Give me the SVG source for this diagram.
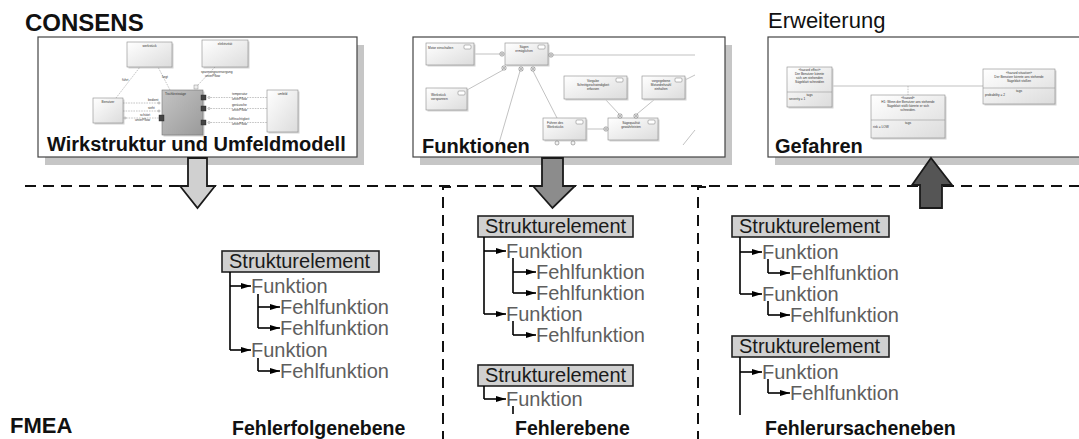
<svg xmlns="http://www.w3.org/2000/svg" width="1079" height="439" viewBox="0 0 1079 439">
  <defs>
    <style>
      .title{font-family:"Liberation Sans",Arial,sans-serif;font-weight:bold;font-size:24px;fill:#111}
      .sub{font-family:"Liberation Sans",Arial,sans-serif;font-size:22px;fill:#111}
      .lbl{font-family:"Liberation Sans",Arial,sans-serif;font-weight:bold;font-size:20px;fill:#111}
      .lvl{font-family:"Liberation Sans",Arial,sans-serif;font-weight:bold;font-size:19.5px;fill:#111}
      .se{font-family:"Liberation Sans",Arial,sans-serif;font-size:20px;fill:#1a1a1a}
      .fn{font-family:"Liberation Sans",Arial,sans-serif;font-size:20px;fill:#5e5e5e}
      .tiny{font-family:"Liberation Sans",Arial,sans-serif;font-size:3.2px;fill:#333}
      .tinyc{font-family:"Liberation Sans",Arial,sans-serif;font-size:3.2px;fill:#333;text-anchor:middle}
      .frame{fill:#fff;stroke:#444;stroke-width:1.2}
      .shadow{fill:#c6c6c6}
      .sb{fill:url(#boxg);stroke:#8a8a8a;stroke-width:0.6}
      .sbs{fill:#d4d4d4}
      .dk{fill:#444;stroke:#222;stroke-width:0.4}
      .lp{fill:#eee;stroke:#777;stroke-width:0.4}
      .dl{fill:none;stroke:#888;stroke-width:0.5;stroke-dasharray:1.6 1}
      .sl{fill:none;stroke:#999;stroke-width:0.6}
      .ic{fill:#fff;stroke:#777;stroke-width:0.5}
      .sebox{fill:#d0d0d0;stroke:#222;stroke-width:1.6}
      .tree{fill:none;stroke:#000;stroke-width:1.6}
      .tarr{fill:none;stroke:#000;stroke-width:1.6;marker-end:url(#tip)}
      .dash{fill:none;stroke:#111;stroke-width:2;stroke-dasharray:11 7}
      .blk{stroke:#1a1a1a;stroke-width:1.8;stroke-linejoin:miter}
    </style>
    <linearGradient id="boxg" x1="0" y1="0" x2="1" y2="1">
      <stop offset="0" stop-color="#ffffff"/>
      <stop offset="1" stop-color="#dcdcdc"/>
    </linearGradient>
    <linearGradient id="grayg" x1="0" y1="0" x2="1" y2="1">
      <stop offset="0" stop-color="#c4c4c4"/>
      <stop offset="1" stop-color="#9a9a9a"/>
    </linearGradient>
    <marker id="tip" viewBox="0 0 10 6" refX="10" refY="3" markerWidth="10" markerHeight="6" markerUnits="userSpaceOnUse" orient="auto">
      <path d="M0,0 L10,3 L0,6 Z" fill="#000"/>
    </marker>
  </defs>

  <!-- section headings -->
  <text class="title" x="25" y="31">CONSENS</text>
  <text class="sub" x="768" y="28">Erweiterung</text>
  <text class="title" x="10" y="433" style="font-size:22px">FMEA</text>

  <!-- panel: structure and environment model -->
  <g id="panel-wirkstruktur">
    <rect class="shadow" x="45" y="45" width="319" height="120"/>
    <rect class="frame" x="38" y="37" width="319" height="120"/>
    <g>
      <rect class="sbs" x="128.5" y="43.5" width="45" height="25"/>
      <rect class="sb" x="127" y="42" width="45" height="25"/>
      <text class="tinyc" x="149.5" y="47">werkstück</text>
      <rect class="sbs" x="203.5" y="41.5" width="46" height="27"/>
      <rect class="sb" x="202" y="40" width="46" height="27"/>
      <text class="tinyc" x="225" y="45">elektrizität</text>
      <rect class="sbs" x="94.5" y="99.5" width="30" height="25"/>
      <rect class="sb" x="93" y="98" width="30" height="25"/>
      <text class="tinyc" x="108" y="103">Benutzer</text>
      <rect class="sbs" x="163.5" y="91.5" width="41" height="45"/>
      <rect x="162" y="90" width="41" height="45" fill="url(#grayg)" stroke="#777" stroke-width="0.6"/>
      <text class="tiny" x="165" y="95">Tischkreissäge</text>
      <rect class="sbs" x="268.5" y="91.5" width="31" height="42"/>
      <rect class="sb" x="267" y="90" width="31" height="42"/>
      <text class="tinyc" x="282.5" y="95">umfeld</text>
      <!-- dashed relations -->
      <path class="dl" d="M116,98 L140,67 M170,90 L158,67 M215,67 L197,86"/>
      <path class="dl" d="M123,103 H159 M123,111 H159 M126,118 H160"/>
      <path class="dl" d="M208,97.5 H267 M208,108.5 H267 M208,122.5 H267"/>
      <circle class="ic" cx="159" cy="103" r="1"/>
      <circle class="ic" cx="159" cy="111" r="1"/>
      <circle class="ic" cx="125" cy="118" r="1"/>
      <circle class="ic" cx="209" cy="97.5" r="1"/>
      <circle class="ic" cx="209" cy="108.5" r="1"/>
      <circle class="ic" cx="209" cy="122.5" r="1"/>
      <rect class="lp" x="194" y="85" width="4" height="4"/>
      <rect class="dk" x="159" y="115" width="5" height="6"/>
      <rect class="dk" x="201" y="95" width="5" height="5"/>
      <rect class="dk" x="201" y="106" width="5" height="5"/>
      <rect class="dk" x="201" y="120" width="5" height="5"/>
      <text class="tiny" x="122" y="81">führt</text>
      <text class="tiny" x="162" y="78">liegt</text>
      <text class="tiny" x="201" y="73">spannungsversorgung</text>
      <text class="tiny" x="205" y="77">unterPflow</text>
      <text class="tiny" x="148" y="101">bedient</text>
      <text class="tiny" x="148" y="109">sieht</text>
      <text class="tiny" x="140" y="116">schützt</text>
      <text class="tiny" x="135" y="121">unterPflow</text>
      <text class="tiny" x="232" y="95">temperatur</text>
      <text class="tiny" x="232" y="99.5">unterPflow</text>
      <text class="tiny" x="232" y="106">geräusche</text>
      <text class="tiny" x="232" y="110.5">unterPflow</text>
      <text class="tiny" x="229" y="120">luftfeuchtigkeit</text>
      <text class="tiny" x="232" y="124.5">unterPflow</text>
    </g>
    <text class="lbl" x="47" y="151">Wirkstruktur und Umfeldmodell</text>
  </g>

  <!-- panel: functions -->
  <g id="panel-funktionen">
    <rect class="shadow" x="420" y="45" width="312" height="120"/>
    <rect class="frame" x="413" y="37" width="312" height="120"/>
    <g>
      <path class="sl" d="M474,54 H500 M553,55 H695 M503,70 L467,90 M520,71 L497,150 M533,71 L557,118 M586,129 H604 M605,99 L619,114 M655,99 L637,114 M685,80 L695,75 M683,145 L695,130"/>
      <rect class="sbs" x="427.5" y="44.5" width="48" height="22"/>
      <rect class="sb" x="426" y="43" width="48" height="22"/>
      <text class="tiny" x="428" y="49">Motor einschalten</text>
      <rect class="sbs" x="506.5" y="44.5" width="43" height="22"/>
      <rect class="sb" x="505" y="43" width="43" height="22"/>
      <text class="tinyc" x="524" y="48">Sägen</text>
      <text class="tinyc" x="524" y="52">ermöglichen</text>
      <rect class="sbs" x="427.5" y="89.5" width="41" height="22"/>
      <rect class="sb" x="426" y="88" width="41" height="22"/>
      <text class="tiny" x="431" y="96">Werkstück</text>
      <text class="tiny" x="431" y="100">vorspannen</text>
      <rect class="sbs" x="565.5" y="77.5" width="63" height="23"/>
      <rect class="sb" x="564" y="76" width="63" height="23"/>
      <text class="tinyc" x="593" y="82">Vorgabe</text>
      <text class="tinyc" x="593" y="86">Schnittgeschwindigkeit</text>
      <text class="tinyc" x="593" y="90">erfassen</text>
      <rect class="sbs" x="643.5" y="77.5" width="43" height="23"/>
      <rect class="sb" x="642" y="76" width="43" height="23"/>
      <text class="tinyc" x="661" y="82">vorgegebene</text>
      <text class="tinyc" x="661" y="86">Motordrehzahl</text>
      <text class="tinyc" x="661" y="90">einhalten</text>
      <rect class="sbs" x="544.5" y="119.5" width="43" height="22"/>
      <rect class="sb" x="543" y="118" width="43" height="22"/>
      <text class="tiny" x="547" y="124">Führen des</text>
      <text class="tiny" x="547" y="128">Werkstücks</text>
      <rect class="sbs" x="609.5" y="119.5" width="50" height="22"/>
      <rect class="sb" x="608" y="118" width="50" height="22"/>
      <text class="tinyc" x="631" y="124">Sägequalität</text>
      <text class="tinyc" x="631" y="128">gewährleisten</text>
      <!-- icons -->
      <rect class="ic" x="464" y="45" width="7" height="4" rx="1"/>
      <rect class="ic" x="538" y="45" width="7" height="4" rx="1"/>
      <rect class="ic" x="458" y="91" width="7" height="4" rx="1"/>
      <rect class="ic" x="616" y="78" width="7" height="4" rx="1"/>
      <rect class="ic" x="675" y="78" width="7" height="4" rx="1"/>
      <rect class="ic" x="576" y="120" width="7" height="4" rx="1"/>
      <rect class="ic" x="648" y="120" width="7" height="4" rx="1"/>
      <!-- ports -->
      <g fill="#f2f2f2" stroke="#666" stroke-width="0.5">
        <circle cx="502" cy="54" r="2.2"/>
        <circle cx="551" cy="55" r="2.2"/>
        <circle cx="504" cy="68" r="2.2"/>
        <circle cx="521" cy="69" r="2.2"/>
        <circle cx="533" cy="69" r="2.2"/>
        <circle cx="606" cy="129" r="2.2"/>
        <circle cx="620" cy="116" r="2.2"/>
        <circle cx="636" cy="116" r="2.2"/>
        <circle cx="557" cy="143" r="2"/>
        <circle cx="573" cy="143" r="2"/>
      </g>
      <path d="M500.5,54 H503.5 M502,52.5 V55.5 M549.5,55 H552.5 M551,53.5 V56.5 M502.5,66.5 L505.5,69.5 M505.5,66.5 L502.5,69.5 M519.5,67.5 L522.5,70.5 M522.5,67.5 L519.5,70.5 M531.5,67.5 L534.5,70.5 M534.5,67.5 L531.5,70.5 M604.5,129 H607.5 M606,127.5 V130.5 M618.5,114.5 L621.5,117.5 M621.5,114.5 L618.5,117.5 M634.5,114.5 L637.5,117.5 M637.5,114.5 L634.5,117.5" stroke="#666" stroke-width="0.4" fill="none"/>
    </g>
    <text class="lbl" x="422" y="153">Funktionen</text>
  </g>

  <!-- panel: hazards -->
  <g id="panel-gefahren">
    <rect class="shadow" x="775" y="45" width="320" height="120"/>
    <rect class="frame" x="768" y="37" width="320" height="120"/>
    <g>
      <path class="sl" d="M832,86 H983"/>
      <path class="dl" d="M908,86 V95"/>
      <rect class="sbs" x="788.5" y="68.5" width="45" height="40"/>
      <rect class="sb" x="787" y="67" width="45" height="40"/>
      <path class="sl" d="M787,92 H832"/>
      <text class="tinyc" x="809.5" y="71">«hazard effect»</text>
      <text class="tinyc" x="809.5" y="75">Der Benutzer könnte</text>
      <text class="tinyc" x="809.5" y="79">sich am stehenden</text>
      <text class="tinyc" x="809.5" y="83">Sägeblatt schneiden</text>
      <text class="tinyc" x="809.5" y="96">tags</text>
      <text class="tiny" x="789" y="100">severity = 1</text>
      <rect class="sbs" x="872.5" y="96.5" width="74" height="43"/>
      <rect class="sb" x="871" y="95" width="74" height="43"/>
      <path class="sl" d="M871,120 H945"/>
      <text class="tinyc" x="908" y="99">«hazard»</text>
      <text class="tinyc" x="908" y="103">H1: Wenn der Benutzer ans stehende</text>
      <text class="tinyc" x="908" y="107">Sägeblatt stößt könnte er sich</text>
      <text class="tinyc" x="908" y="111">schneiden.</text>
      <text class="tinyc" x="908" y="124">tags</text>
      <text class="tiny" x="873" y="128">risk = LOW</text>
      <rect class="sbs" x="984.5" y="70.5" width="72" height="35"/>
      <rect class="sb" x="983" y="69" width="72" height="35"/>
      <path class="sl" d="M983,88 H1055"/>
      <text class="tinyc" x="1019" y="74">«hazard situation»</text>
      <text class="tinyc" x="1019" y="78">Der Benutzer könnte ans stehende</text>
      <text class="tinyc" x="1019" y="82">Sägeblatt stoßen</text>
      <text class="tinyc" x="1019" y="92">tags</text>
      <text class="tiny" x="985" y="96">probability = 2</text>
    </g>
    <text class="lbl" x="775" y="153">Gefahren</text>
  </g>

  <!-- level separators -->
  <g id="separators">
    <path class="dash" d="M25,186 H1079"/>
    <path class="dash" d="M451,187 H443 V439"/>
    <path class="dash" d="M706,187 H698 V439"/>
  </g>

  <!-- transfer arrows between CONSENS and FMEA -->
  <g id="transfer-arrows">
    <path class="blk" fill="#d0d0d0" d="M188,158 H207 V186 H215 L197.5,208 L180,186 H188 Z"/>
    <path class="blk" fill="#8c8c8c" d="M542,158 H563 V186 H575 L552.5,208 L533,186 H542 Z"/>
    <path class="blk" fill="#555555" d="M920,208 H942 V185 H952 L931,158 L912,185 H920 Z"/>
  </g>

  <!-- failure effect level -->
  <g id="tree-fehlerfolge">
    <rect class="sebox" x="222" y="251" width="157" height="21"/>
    <text class="se" x="229" y="268">Strukturelement</text>
    <path class="tree" d="M230,272 V350 M258,294 V328 M258,358 V371"/>
    <path class="tarr" d="M230,286 H251"/>
    <path class="tarr" d="M230,350 H251"/>
    <path class="tarr" d="M258,307 H280"/>
    <path class="tarr" d="M258,328 H280"/>
    <path class="tarr" d="M258,371 H280"/>
    <text class="fn" x="251" y="293">Funktion</text>
    <text class="fn" x="280" y="314">Fehlfunktion</text>
    <text class="fn" x="280" y="335">Fehlfunktion</text>
    <text class="fn" x="251" y="357">Funktion</text>
    <text class="fn" x="280" y="378">Fehlfunktion</text>
    <text class="lvl" x="232" y="435">Fehlerfolgenebene</text>
  </g>

  <!-- failure level -->
  <g id="tree-fehler">
    <rect class="sebox" x="478" y="216" width="155" height="21"/>
    <text class="se" x="485" y="233">Strukturelement</text>
    <path class="tree" d="M484,237 V314 M513,258 V293 M513,321 V335"/>
    <path class="tarr" d="M484,251 H506"/>
    <path class="tarr" d="M484,314 H506"/>
    <path class="tarr" d="M513,272 H536"/>
    <path class="tarr" d="M513,293 H536"/>
    <path class="tarr" d="M513,335 H536"/>
    <text class="fn" x="506" y="258">Funktion</text>
    <text class="fn" x="536" y="279">Fehlfunktion</text>
    <text class="fn" x="536" y="300">Fehlfunktion</text>
    <text class="fn" x="506" y="321">Funktion</text>
    <text class="fn" x="536" y="342">Fehlfunktion</text>
    <rect class="sebox" x="478" y="365" width="155" height="21"/>
    <text class="se" x="485" y="382">Strukturelement</text>
    <path class="tree" d="M484,386 V399 M513,406 V414"/>
    <path class="tarr" d="M484,399 H506"/>
    <text class="fn" x="506" y="406">Funktion</text>
    <text class="lvl" x="515" y="435">Fehlerebene</text>
  </g>

  <!-- failure cause level -->
  <g id="tree-fehlerursache">
    <rect class="sebox" x="732" y="216" width="157" height="21"/>
    <text class="se" x="739" y="233">Strukturelement</text>
    <path class="tree" d="M740,237 V294 M768,259 V273 M768,301 V315"/>
    <path class="tarr" d="M740,252 H762"/>
    <path class="tarr" d="M740,294 H762"/>
    <path class="tarr" d="M768,273 H790"/>
    <path class="tarr" d="M768,315 H790"/>
    <text class="fn" x="762" y="259">Funktion</text>
    <text class="fn" x="790" y="280">Fehlfunktion</text>
    <text class="fn" x="762" y="301">Funktion</text>
    <text class="fn" x="790" y="322">Fehlfunktion</text>
    <rect class="sebox" x="732" y="336" width="157" height="21"/>
    <text class="se" x="739" y="353">Strukturelement</text>
    <path class="tree" d="M740,357 V415 M768,379 V393"/>
    <path class="tarr" d="M740,372 H762"/>
    <path class="tarr" d="M768,393 H790"/>
    <text class="fn" x="762" y="379">Funktion</text>
    <text class="fn" x="790" y="400">Fehlfunktion</text>
    <text class="lvl" x="765" y="435">Fehlerursacheneben</text>
  </g>
</svg>
